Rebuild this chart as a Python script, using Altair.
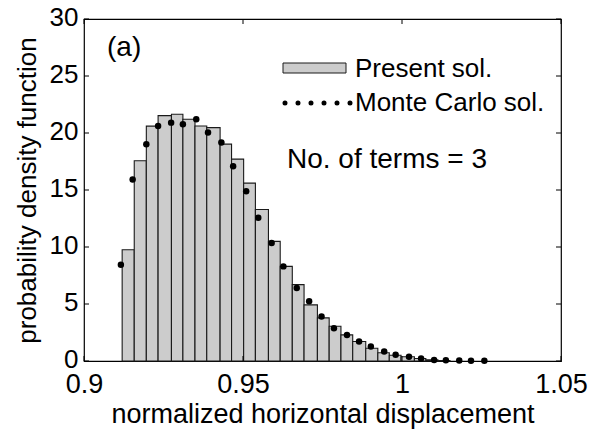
import altair as alt
import pandas as pd

# Histogram of the present solution: bin edges and density per bin
bin_edges = [0.9120, 0.9158, 0.9196, 0.9233, 0.9275, 0.9311, 0.9349, 0.9386,
             0.9428, 0.9464, 0.9502, 0.9539, 0.9580, 0.9617, 0.9655, 0.9692,
             0.9734, 0.9771, 0.9808, 0.9845, 0.9886, 0.9924, 0.9960, 0.9997,
             1.0039, 1.0075, 1.0113, 1.0151]
pdf_present = [9.76, 17.56, 20.60, 21.52, 21.65, 21.21, 20.62, 20.47, 19.02,
               17.71, 15.60, 13.29, 10.49, 8.30, 6.70, 4.92, 3.78, 3.05, 2.29,
               1.71, 1.12, 0.72, 0.51, 0.37, 0.22, 0.10, 0.05]

# Monte Carlo reference solution
mc_x = [0.9116, 0.9153, 0.9196, 0.9233, 0.9274, 0.9311, 0.9353, 0.9390,
        0.9432, 0.9469, 0.9510, 0.9548, 0.9590, 0.9627, 0.9669, 0.9708,
        0.9747, 0.9786, 0.9827, 0.9865, 0.9902, 0.9944, 0.9980, 1.0022,
        1.0060, 1.0101, 1.0138, 1.0180, 1.0217, 1.0259]
mc_pdf = [8.45, 15.92, 19.02, 20.62, 20.91, 20.77, 21.21, 20.04, 19.16, 17.09,
          14.90, 12.57, 10.35, 8.30, 6.41, 5.24, 3.90, 2.87, 2.29, 1.71, 1.27,
          0.83, 0.54, 0.37, 0.22, 0.08, 0.06, 0.04, 0.03, 0.02]

x_ticks = [0.9, 0.95, 1.0, 1.05]
y_ticks = [0, 5, 10, 15, 20, 25, 30]

FONT = "Liberation Sans"
W, H = 477, 342

hist = pd.DataFrame({"lo": bin_edges[:-1], "hi": bin_edges[1:], "pdf": pdf_present})
mc = pd.DataFrame({"x": mc_x, "pdf": mc_pdf})
xt = pd.DataFrame({"x": x_ticks})
yt = pd.DataFrame({"y": y_ticks})

xscale = alt.Scale(domain=[0.9, 1.05], nice=False, zero=False)
yscale = alt.Scale(domain=[0, 30], nice=False)

x_axis = alt.Axis(values=x_ticks, format="~g", title="normalized horizontal displacement",
                  labelPadding=10, labelFlush=False, labelOverlap=False, labelFontSize=27,
                  titleFontSize=27, titleBaseline="alphabetic", titleY=61, titleX=W / 2)
y_axis = alt.Axis(values=y_ticks, format="d", title="probability density function",
                  labelPadding=6, labelFontSize=26, labelOffset=-2, titleFontSize=26,
                  titleAngle=270, titleBaseline="alphabetic", titleX=-49, titleY=H / 2)

bars = alt.Chart(hist).mark_rect(fill="#cccccc", stroke="#1a1a1a", strokeWidth=1.1).encode(
    x=alt.X("lo:Q", scale=xscale, axis=x_axis),
    x2="hi:Q",
    y=alt.Y("pdf:Q", scale=yscale, axis=y_axis),
    y2=alt.datum(0),
)

dots = alt.Chart(mc).mark_circle(color="black", size=42, opacity=1).encode(
    x="x:Q", y="pdf:Q"
)

# inward ticks on all four sides of the box
tick_bottom = alt.Chart(xt).mark_rule(color="black").encode(
    x="x:Q", y=alt.value(H), y2=alt.value(H - 5))
tick_top = alt.Chart(xt).mark_rule(color="black").encode(
    x="x:Q", y=alt.value(0), y2=alt.value(5))
tick_left = alt.Chart(yt).mark_rule(color="black").encode(
    y="y:Q", x=alt.value(0), x2=alt.value(5))
tick_right = alt.Chart(yt).mark_rule(color="black").encode(
    y="y:Q", x=alt.value(W), x2=alt.value(W - 5))

# legend
leg_patch = alt.Chart().mark_rect(fill="#cccccc", stroke="#1a1a1a", strokeWidth=1).encode(
    x=alt.value(199), x2=alt.value(262), y=alt.value(44), y2=alt.value(54))
leg_dots = alt.Chart().mark_rule(color="black", strokeWidth=5, strokeCap="round",
                                 strokeDash=[0.001, 13]).encode(
    x=alt.value(201), x2=alt.value(267), y=alt.value(84))
leg_txt1 = alt.Chart().mark_text(text="Present sol.", font=FONT, fontSize=26, align="left",
                                 baseline="alphabetic", color="black").encode(
    x=alt.value(271), y=alt.value(58))
leg_txt2 = alt.Chart().mark_text(text="Monte Carlo sol.", font=FONT, fontSize=26, align="left",
                                 baseline="alphabetic", color="black").encode(
    x=alt.value(271), y=alt.value(92))

label_a = alt.Chart().mark_text(text="(a)", font=FONT, fontSize=28, align="left",
                                baseline="alphabetic", color="black").encode(
    x=alt.value(23), y=alt.value(37))
terms = alt.Chart().mark_text(text="No. of terms = 3", font=FONT, fontSize=28, align="left",
                              baseline="alphabetic", color="black").encode(
    x=alt.value(203), y=alt.value(149))

chart = alt.layer(
    bars, dots, tick_bottom, tick_top, tick_left, tick_right,
    leg_patch, leg_dots, leg_txt1, leg_txt2, label_a, terms,
).properties(
    width=W, height=H,
    autosize=alt.AutoSizeParams(type="none"),
    padding={"left": 84, "top": 19, "right": 589 - 84 - W, "bottom": 429 - 19 - H},
    background="white",
).configure_view(
    stroke="black", strokeWidth=1.2
).configure_axis(
    domain=False, ticks=False, grid=False,
    labelFont=FONT, labelColor="black",
    titleFont=FONT, titleFontWeight="normal", titleColor="black",
)

chart.save("out.html", embed_options={"renderer": "svg", "actions": False})
